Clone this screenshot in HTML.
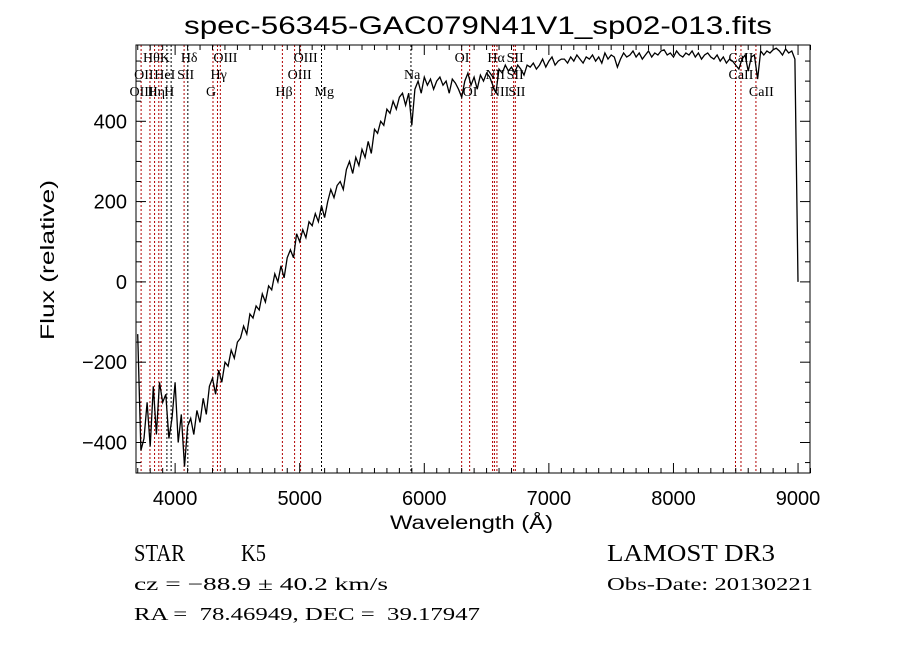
<!DOCTYPE html>
<html><head><meta charset="utf-8">
<style>
html,body{margin:0;padding:0;background:#fff;}
svg{display:block;}
.t{font-family:"Liberation Serif",serif;}
.s{font-family:"Liberation Sans",sans-serif;}
</style></head>
<body>
<svg id="chart" width="900" height="649" viewBox="0 0 900 649" xmlns="http://www.w3.org/2000/svg">
<rect width="900" height="649" fill="#fff"/>
<text class="s" x="184" y="34" font-size="25" textLength="588" lengthAdjust="spacingAndGlyphs">spec-56345-GAC079N41V1_sp02-013.fits</text>
<g id="lines"></g>
<g id="labels" class="t" font-size="14"></g>
<g id="spec"></g>
<g id="axes"></g>
<text class="s" x="390" y="529" font-size="19" textLength="163" lengthAdjust="spacingAndGlyphs">Wavelength (Å)</text>
<text class="s" x="-80" y="0" font-size="19" textLength="160" lengthAdjust="spacingAndGlyphs" transform="translate(54,260) rotate(-90)">Flux (relative)</text>
<text class="t" x="134" y="561" font-size="24" textLength="51" lengthAdjust="spacingAndGlyphs">STAR</text>
<text class="t" x="241" y="561" font-size="24" textLength="25" lengthAdjust="spacingAndGlyphs">K5</text>
<text class="t" x="134" y="590" font-size="18" textLength="254" lengthAdjust="spacingAndGlyphs">cz = −88.9 ± 40.2 km/s</text>
<text class="t" x="134" y="620" font-size="18" textLength="346" lengthAdjust="spacingAndGlyphs" xml:space="preserve">RA =  78.46949, DEC =  39.17947</text>
<text class="t" x="607" y="561" font-size="24" textLength="168" lengthAdjust="spacingAndGlyphs">LAMOST DR3</text>
<text class="t" x="607" y="590" font-size="18" textLength="206" lengthAdjust="spacingAndGlyphs">Obs-Date: 20130221</text>
</svg>
<script>
const waveStart = 3700, waveStep = 25;
const flux = [
-130,-420,-390,-300,-410,-260,-380,-250,-300,
-280,-390,-340,-250,-400,-330,-460,-360,
-340,-380,-320,-350,-290,-330,-260,-240,
-280,-220,-250,-200,-210,-170,-190,-150,
-140,-110,-130,-80,-90,-60,-70,-30,
-50,-10,-20,20,0,40,10,60,
80,60,120,100,130,110,150,140,
170,150,190,160,200,230,210,240,
250,230,280,300,270,310,290,330,
310,350,320,380,370,400,390,430,
420,450,430,460,470,440,470,390,
480,500,470,510,490,505,480,500,
510,490,500,470,505,495,480,460,
500,520,490,510,480,515,500,520,
510,490,470,530,520,540,525,535,
520,540,530,515,540,535,545,530,
540,555,535,550,560,540,550,555,
555,545,560,550,565,555,545,560,
555,565,550,560,545,570,555,565,
560,535,555,570,560,565,575,560,
570,555,565,575,560,570,565,575,
578,565,570,560,575,565,560,570,
565,575,560,570,555,565,570,560,
555,565,550,560,545,555,550,540,
530,555,565,525,560,565,505,575,
565,575,570,578,582,575,565,580,
570,575,555,0
];
const lineWaves = [3727,3798,3835,3869,3889,3934,3968,4072,4102,4304,4340,4363,4861,4959,5007,5175,5893,6300,6364,6548,6563,6583,6717,6731,8498,8542,8662];
const lineColors = ['r','r','r','r','r','k','k','r','k','r','r','r','r','r','r','k','k','r','r','r','r','r','r','r','r','r','r'];
const labelText = ['Hθ','K','Hδ','OIII','OIII','OI','Hα','SII','CaII',
 'OII','HeI','SII','Hγ','OIII','Na','NII','SII','CaII',
 'OIII','Hη','H','G','Hβ','Mg','OI','NII','SII','CaII'];
const labelWave = [3798,3934,4102,4363,5007,6300,6563,6717,8498,
 3727,3889,4072,4340,4959,5893,6548,6717,8498,
 3690,3835,3968,4304,4861,5175,6364,6583,6731,8662];
const labelRow = [0,0,0,0,0,0,0,0,0, 1,1,1,1,1,1,1,1,1, 2,2,2,2,2,2,2,2,2,2];
const xTicks = [4000,5000,6000,7000,8000,9000];
const yTicks = [-400,-200,0,200,400];

const L=136,R=810,T=45,B=473;
const W0=3686, W1=9096, V0=-476, V1=590;
const X=w=>L+(w-W0)/(W1-W0)*(R-L);
const Y=v=>B-(v-V0)/(V1-V0)*(B-T);
const NS='http://www.w3.org/2000/svg';
function mk(tag,attrs,parent){const e=document.createElementNS(NS,tag);for(const k in attrs)e.setAttribute(k,attrs[k]);parent.appendChild(e);return e;}

const lg=document.getElementById('lines');
lineWaves.forEach((w,i)=>{
  const e=mk('line',{x1:X(w),x2:X(w),y1:T,y2:B,stroke:lineColors[i]==='r'?'#b00000':'#000','stroke-width':1,'stroke-dasharray':'2,2'},lg);
  
  
});
const lb=document.getElementById('labels');
labelText.forEach((t,i)=>{
  const e=mk('text',{x:X(labelWave[i])-7,y:62+labelRow[i]*17},lb);
  e.textContent=t;
  
  
});

const sg=document.getElementById('spec');
mk('clipPath',{id:'clip'},sg).appendChild((()=>{const r=document.createElementNS(NS,'rect');r.setAttribute('x',L);r.setAttribute('y',T);r.setAttribute('width',R-L);r.setAttribute('height',B-T);return r;})());
let d='';
flux.forEach((v,i)=>{d+=(i?'L':'M')+X(waveStart+i*waveStep).toFixed(1)+','+Y(v).toFixed(1);});
const p=mk('path',{d:d,fill:'none',stroke:'#000','stroke-width':1.3,'clip-path':'url(#clip)'},sg);



const ax=document.getElementById('axes');
const fr=mk('rect',{x:L,y:T,width:R-L,height:B-T,fill:'none',stroke:'#000','stroke-width':1},ax);


for(let w=3700;w<=9100;w+=100){
  const major=w%1000===0, len=major?10:5, x=X(w);
  mk('line',{x1:x,x2:x,y1:B,y2:B-len,stroke:'#000'},ax);
  mk('line',{x1:x,x2:x,y1:T,y2:T+len,stroke:'#000'},ax);
}
for(let v=-450;v<=550;v+=50){
  const major=v%200===0, len=major?10:5, y=Y(v);
  mk('line',{x1:L,x2:L+len,y1:y,y2:y,stroke:'#000'},ax);
  mk('line',{x1:R,x2:R-len,y1:y,y2:y,stroke:'#000'},ax);
}
xTicks.forEach(w=>{
  const e=mk('text',{x:X(w),y:505,'font-size':20,'text-anchor':'middle',class:'s'},ax);
  e.textContent=w;
  
  
});
yTicks.forEach(v=>{
  const e=mk('text',{x:127,y:Y(v)+7,'font-size':20,'text-anchor':'end',class:'s'},ax);
  e.textContent=v<0?'−'+(-v):v;
  
  
});
</script>
</body></html>
